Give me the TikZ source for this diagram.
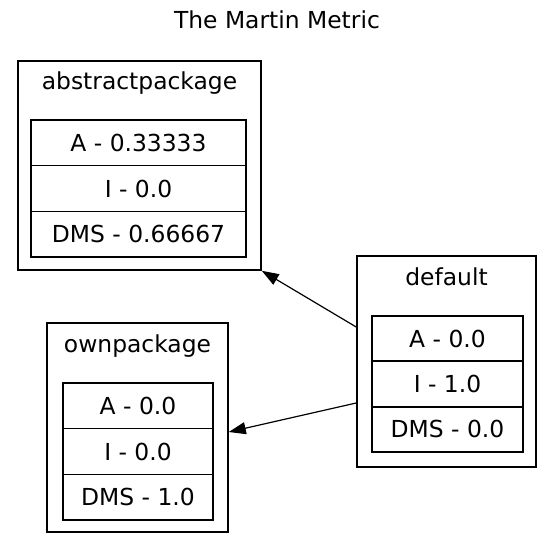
\documentclass[tikz,border=0pt]{standalone}
\usepackage{fontspec}
\setmainfont{DejaVu Sans}
\usetikzlibrary{arrows.meta}

\begin{document}
\begin{tikzpicture}[x=0.5pt, y=-0.5pt, >={Triangle[length=8.5pt,width=6pt]},
    font=\fontsize{11.7}{14}\selectfont,
    pkgbox/.style={draw, line width=0.8pt, inner sep=0pt},
    pkgname/.style={inner sep=0pt, text height=8.5pt, text depth=0pt},
    cellrow/.style={draw, line width=0.8pt, inner sep=0pt, minimum height=22.85pt,
      text height=8.5pt, text depth=0pt},
    dep/.style={->, line width=0.6pt}]
    % Rahmen
    \useasboundingbox (0,0) rectangle (542,533);
    % Titel
    \node[pkgname] (title) at (277,20) {The Martin Metric};
    % Paket abstractpackage
    \node[pkgbox, minimum width=121.5pt, minimum height=104.5pt] (absbox) at (139.5,165.5) {};
    \node[pkgname] (abstitle) at (139.5,81) {abstractpackage};
    \foreach \txt [count=\i] in {A - 0.33333, I - 0.0, DMS - 0.66667}
        \node[cellrow, minimum width=107.5pt] (abs\i) at (138.5,{120+45.7*(\i-0.5)}) {\txt};
    % Paket default
    \node[pkgbox, minimum width=89.5pt, minimum height=105.5pt] (defbox) at (446.5,361.5) {};
    \node[pkgname] (deftitle) at (446.5,277.5) {default};
    \foreach \txt [count=\i] in {A - 0.0, I - 1.0, DMS - 0.0}
        \node[cellrow, minimum width=75.5pt] (def\i) at (447.5,{316+45.3*(\i-0.5)}) {\txt};
    % Paket ownpackage
    \node[pkgbox, minimum width=90.5pt, minimum height=104.5pt] (ownbox) at (137.5,427.5) {};
    \node[pkgname] (owntitle) at (137.5,344) {ownpackage};
    \foreach \txt [count=\i] in {A - 0.0, I - 0.0, DMS - 1.0}
        \node[cellrow, minimum width=75pt] (own\i) at (138,{383+45.7*(\i-0.5)}) {\txt};
    % Abhaengigkeiten
    \coordinate (d1) at ([yshift=17.25pt]defbox.west);
    \coordinate (d2) at ([yshift=-20.75pt]defbox.west);
    \coordinate (o2) at ([yshift=-2.25pt]ownbox.east);
    \draw[dep] (d1) -- (absbox.south east);
    \draw[dep] (d2) -- (o2);
\end{tikzpicture}
\end{document}
